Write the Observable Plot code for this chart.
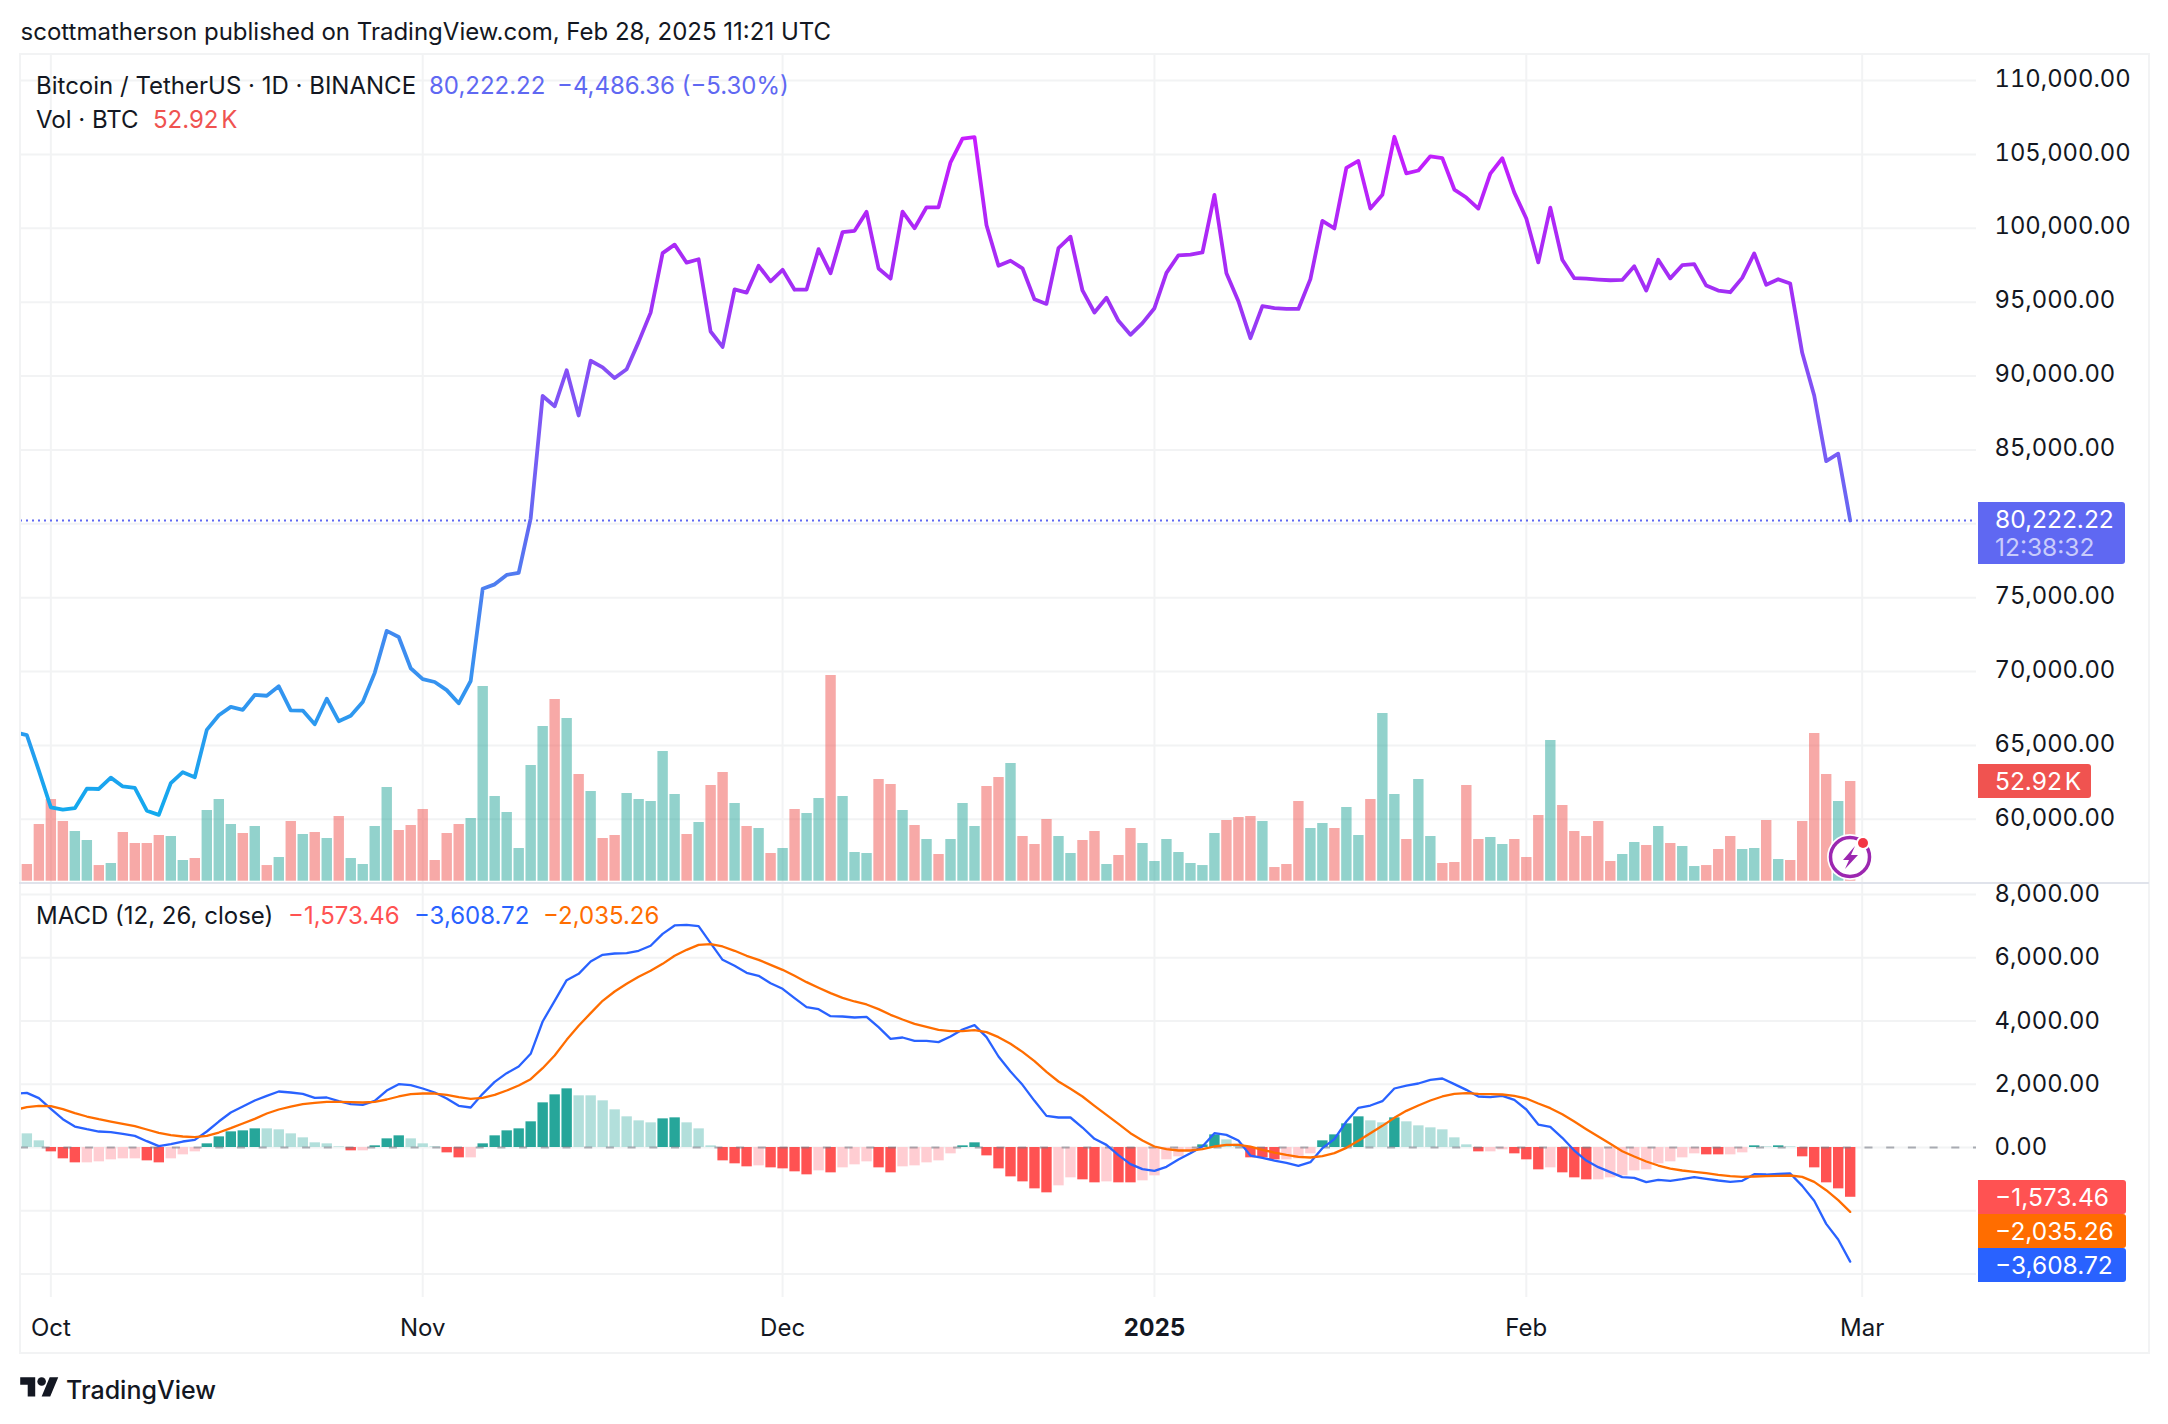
<!DOCTYPE html>
<html>
<head>
<meta charset="utf-8">
<script src="https://cdn.jsdelivr.net/npm/d3@7"></script>
<script src="https://cdn.jsdelivr.net/npm/@observablehq/plot@0.6"></script>
<style>
  html,body{margin:0;padding:0;background:#fff;}
  #root{position:relative;width:2168px;height:1424px;overflow:hidden;font-family:Inter,sans-serif;color:#131722;font-size:24px;line-height:1;}
  .txt{position:absolute;white-space:pre;transform:translateY(-50%);}
  .tag{position:absolute;left:1978px;color:#fff;box-sizing:border-box;padding-left:17px;border-radius:0 3px 3px 0;display:flex;flex-direction:column;justify-content:center;font-size:24.5px;}
  .frame{position:absolute;background:#f2f3f4;}
</style>
</head>
<body>
<div id="root"></div>
<script>
// ---- data (daily, Sep 28 2024 → Feb 28 2025) ----
const firstDay = "2024-09-28", lastDay = "2025-03-01";
const closes = [65887,65700,63300,60800,60650,60750,62070,62050,62820,62220,62130,60580,60300,62450,63190,62850,66050,67040,67610,67400,68420,68360,69000,67370,67360,66430,68160,66640,67010,67930,69910,72750,72340,70220,69480,69290,68740,67850,69360,75600,75900,76540,76680,80370,88650,87950,90390,87330,91030,90590,89860,90460,92310,94290,98320,98890,97670,97900,93010,91970,95860,95640,97460,96410,97190,95840,95850,98590,96950,99740,99830,101110,97280,96590,101130,100000,101420,101420,104460,106060,106170,100200,97460,97800,97290,95190,94880,98660,99430,95790,94300,95300,93740,92790,93580,94590,96980,98170,98220,98360,102260,96950,95060,92560,94730,94600,94550,94540,96560,100500,99990,104080,104560,101330,102260,106190,103710,103910,104870,104750,102620,102080,101330,103700,104740,102410,100660,97690,101400,97870,96620,96590,96530,96480,96500,97430,95780,97870,96610,97500,97570,96120,95780,95670,96640,98300,96180,96550,96260,91570,88680,84240,84740,80222.22];
const volumeK = [8.85,30.07,43.34,31.67,26.36,21.58,8.31,9.38,25.83,19.99,19.99,24.24,23.70,10.97,12.03,37.50,43.34,30.07,25.30,29.01,8.31,12.56,31.67,24.77,25.83,22.64,34.32,12.03,8.85,29.01,49.71,26.89,29.54,38.03,10.97,25.30,30.07,33.26,103.3,44.93,36.44,17.34,61.38,82.08,96.41,86.33,56.61,47.59,22.64,24.24,46.52,43.34,42.28,68.81,45.99,24.77,31.13,50.77,57.67,41.22,29.01,27.95,14.68,17.34,38.03,35.91,43.87,109.1,44.93,15.21,14.68,53.95,51.30,37.50,29.54,22.11,14.15,22.11,41.22,29.01,50.24,55.02,62.45,23.70,19.46,32.73,23.70,14.68,21.58,26.36,8.85,13.62,27.95,19.99,10.44,22.11,15.21,9.38,8.31,25.30,32.20,33.79,34.32,31.67,7.25,8.85,42.28,27.95,30.60,27.95,39.09,24.24,43.34,88.98,45.99,22.11,53.95,23.70,9.38,9.91,50.77,22.11,23.17,19.46,22.11,12.56,34.85,74.65,40.16,26.36,23.70,31.67,10.44,14.15,20.52,18.93,29.01,19.99,18.40,7.78,8.31,16.81,23.70,16.81,17.34,32.20,11.50,10.97,31.67,78.37,56.61,42.28,52.92];
const volumeColors = "rrrrggrgrr"+"rrggrgggrg"+"rgrgrgrggg"+"grrrrrrggg"+"ggggrgrgrr"+"gggggrgrrg"+"rgrgrggrgg"+"grrgrgrggg"+"rrgrrrggrr"+"grrggggggg"+"rrrgrrrggr"+"ggrggrggrr"+"rrggrrrgrr"+"rrrggrgrgg"+"rrrggrgrrr"+"rgr";
const macdLine = [1700,1729,1560,1223,896,664,580,506,485,432,369,200,42,105,190,242,506,822,1107,1296,1486,1634,1771,1739,1697,1570,1581,1465,1370,1349,1476,1802,2003,1971,1866,1739,1549,1318,1265,1697,2076,2350,2561,2962,3984,4638,5291,5491,5881,6092,6134,6145,6219,6377,6756,7020,7041,6999,6461,5934,5744,5523,5428,5196,5017,4722,4437,4374,4153,4142,4111,4132,3805,3436,3478,3373,3373,3331,3510,3731,3868,3489,2877,2403,1981,1476,1001,949,949,632,274,84,-242,-527,-685,-738,-611,-379,-179,32,453,400,221,-253,-327,-411,-485,-580,-464,-21,264,822,1254,1328,1465,1866,1960,2024,2140,2182,2003,1823,1613,1592,1634,1507,1202,727,653,306,-95,-411,-622,-780,-938,-959,-1096,-1022,-1054,-1001,-938,-991,-1043,-1086,-1054,-843,-854,-833,-822,-1212,-1686,-2414,-2909,-3608.72];
const signalLine = [1191,1275,1317,1307,1212,1086,980,896,822,748,675,569,464,390,348,327,369,474,611,759,906,1075,1202,1296,1370,1412,1444,1444,1433,1423,1444,1518,1613,1686,1707,1707,1665,1592,1539,1570,1665,1802,1960,2161,2508,2909,3404,3847,4248,4638,4933,5175,5396,5586,5807,6061,6250,6408,6429,6356,6219,6061,5934,5776,5618,5428,5228,5049,4880,4733,4617,4522,4374,4195,4047,3910,3815,3721,3678,3678,3710,3647,3489,3278,3025,2730,2393,2087,1855,1613,1317,1033,748,453,221,32,-53,-95,-95,-53,32,84,84,25,-74,-158,-232,-295,-316,-274,-179,-11,211,453,685,938,1159,1328,1486,1613,1697,1718,1697,1686,1676,1634,1549,1391,1244,1054,822,580,348,116,-116,-285,-443,-569,-664,-727,-769,-812,-864,-906,-928,-917,-906,-896,-885,-928,-1086,-1349,-1665,-2035.26];
const histogram = [432,211,-137,-358,-485,-485,-453,-390,-358,-358,-422,-485,-358,-232,-137,116,337,495,527,590,590,559,432,306,148,116,21,-105,-105,53,274,369,274,116,21,-169,-327,-327,116,369,527,590,812,1412,1665,1855,1634,1634,1476,1191,970,843,780,906,938,780,590,53,-422,-516,-611,-580,-643,-675,-769,-864,-738,-801,-643,-548,-453,-643,-801,-611,-580,-485,-422,-200,53,148,-264,-675,-928,-1086,-1307,-1433,-1212,-959,-1022,-1117,-1086,-1117,-1117,-1054,-896,-390,-295,-137,84,400,242,105,-327,-327,-390,-390,-358,-200,211,400,748,970,843,780,938,812,685,622,559,306,84,-137,-137,-74,-200,-390,-706,-643,-801,-959,-1022,-1022,-959,-896,-738,-706,-516,-453,-327,-200,-232,-232,-232,-169,53,21,53,21,-295,-643,-1117,-1307,-1573.46];
const histKinds = "ggRRRrrrrrRRrrrGGGGGggggggg"+"Rr"+"GGG"+"ggg"+"RR"+"r"+"GGGGGGGG"+"ggggggg"+"GG"+"ggg"+"RRR"+"r"+"RRRR"+"r"+"R"+"rrr"+"RR"+"rrrrr"+"GG"+"RRRRRR"+"rr"+"RR"+"r"+"RR"+"rrrrr"+"GG"+"gg"+"RRR"+"rrr"+"GGGG"+"gg"+"G"+"gggggg"+"R"+"rr"+"RRR"+"r"+"RRR"+"rrrrrrrrr"+"RR"+"rr"+"GgGg"+"RRRRR";
const priceTicks = [60000,65000,70000,75000,80000,85000,90000,95000,100000,105000,110000];
const priceLabelTicks = [60000,65000,70000,75000,85000,90000,95000,100000,105000,110000];
const macdTicks = [-4000,-2000,0,2000,4000,6000,8000];
const macdLabelTicks = [0,2000,4000,6000,8000];
const monthTicks = ["2024-10-01","2024-11-01","2024-12-01","2025-02-01","2025-03-01"];
const yearTicks = ["2025-01-01"];
const monthNames = {"2024-10-01":"Oct","2024-11-01":"Nov","2024-12-01":"Dec","2025-01-01":"2025","2025-02-01":"Feb","2025-03-01":"Mar"};
const gradientStops = [[106200,"#c81cff"],[100000,"#ad28f6"],[95000,"#a030f5"],[90000,"#8450f5"],[85000,"#7a5cf5"],[80000,"#6468f2"],[75000,"#4a82f0"],[70000,"#3a90f0"],[60000,"#12aaee"]];

// ---- shared geometry ----
const days = d3.utcDay.range(new Date(firstDay), new Date(lastDay));
const barDays = days.slice(1);
const xDomain = [new Date(Date.UTC(2024,8,28,11,17)), new Date(Date.UTC(2025,2,10,12,43))];
const allTicks = [...monthTicks, ...yearTicks].map(d => new Date(d));
const iso = d => d.toISOString().slice(0,10);
const GRID = "#f2f3f4";
const common = {
  width:2168, height:1424, marginLeft:20, marginRight:192,
  x:{type:"utc", domain:xDomain, axis:null},
  style:{background:"transparent", fontFamily:"Inter, sans-serif", fontSize:"24px", color:"#131722", position:"absolute", left:0, top:0}
};
const priceY = {domain:[55721,111760], range:[882,54], axis:null};
const priceMargins = {marginTop:54, marginBottom:542};
const volY = {domain:[0,109.1], range:[880.7,675], axis:null};
const macdY = {domain:[-4742,8347], range:[1297,883], axis:null};
const macdMargins = {marginTop:883, marginBottom:127};
const numFmt = d3.format(",.2f");

const closeRows = days.map((d,i)=>({d, v:closes[i]}));
const volumeRows = barDays.map((d,i)=>({d, v:volumeK[i], c:volumeColors[i]}));
const macdRows = days.map((d,i)=>({d, m:macdLine[i], s:signalLine[i]}));
const histRows = barDays.map((d,i)=>({d, v:histogram[i], k:histKinds[i]}));
const histColor = {G:"#26a69a", g:"#b2dfdb", R:"#ff5252", r:"#ffcdd2"};

const root = document.getElementById("root");

// Layer 1: price grid + right axis
const gridPlot = Plot.plot({...common, ...priceMargins, y:priceY, marks:[
  Plot.gridY(priceTicks,{stroke:GRID, strokeOpacity:1, strokeWidth:2}),
  Plot.gridX(allTicks,{stroke:GRID, strokeOpacity:1, strokeWidth:2}),
  Plot.axisY(priceLabelTicks,{anchor:"right", tickSize:0, tickPadding:18, dy:-1.4, tickFormat:numFmt, label:null, fill:"#131722", fontSize:23.8})
]});
// Layer 2: volume
const volPlot = Plot.plot({...common, ...priceMargins, y:volY, marks:[
  Plot.ruleX(volumeRows,{x:"d", y1:0, y2:"v", strokeWidth:10.4, stroke:d=>d.c==="g"?"#26a69a":"#ef5350", strokeOpacity:0.5})
]});
// Layer 3: price line
const defs = () => {
  const g = d3.create("svg:linearGradient").attr("id","priceGrad").attr("x1",0).attr("y1",0).attr("x2",0).attr("y2",1);
  const hi = gradientStops[0][0], lo = gradientStops[gradientStops.length-1][0];
  gradientStops.forEach(([p,c])=>g.append("stop").attr("offset",(hi-p)/(hi-lo)).attr("stop-color",c));
  const s = d3.create("svg:defs"); s.node().append(g.node()); return s.node();
};
const pricePlot = Plot.plot({...common, ...priceMargins, y:priceY, marks:[
  defs,
  Plot.ruleY([closes[closes.length-1]],{stroke:"#5f68f2", strokeWidth:2, strokeDasharray:"2 4"}),
  Plot.line(closeRows,{x:"d", y:"v", stroke:"url(#priceGrad)", strokeWidth:3.8, curve:"linear", clip:true, strokeLinejoin:"round"})
]});
// Layer 4: MACD pane
const macdPlot = Plot.plot({...common, ...macdMargins, y:macdY, marks:[
  Plot.gridY(macdTicks,{stroke:GRID, strokeOpacity:1, strokeWidth:2}),
  Plot.gridX(allTicks,{stroke:GRID, strokeOpacity:1, strokeWidth:2}),
  Plot.ruleX(histRows,{x:"d", y1:0, y2:"v", strokeWidth:10.4, stroke:d=>histColor[d.k]}),
  Plot.ruleY([0],{stroke:"#787b86", strokeOpacity:0.6, strokeWidth:2, strokeDasharray:"8 13.7"}),
  Plot.line(macdRows,{x:"d", y:"m", stroke:"#2962ff", strokeWidth:2.3, clip:true}),
  Plot.line(macdRows,{x:"d", y:"s", stroke:"#ff6d00", strokeWidth:2.3, clip:true}),
  Plot.axisY(macdLabelTicks,{anchor:"right", tickSize:0, tickPadding:18, tickFormat:numFmt, label:null, fill:"#131722", fontSize:23.8}),
  Plot.axisX(monthTicks.map(d=>new Date(d)),{anchor:"bottom", tickSize:0, tickPadding:21, tickFormat:d=>monthNames[iso(d)], label:null, fill:"#131722", fontSize:24}),
  Plot.axisX(yearTicks.map(d=>new Date(d)),{anchor:"bottom", tickSize:0, tickPadding:21, tickFormat:d=>monthNames[iso(d)], label:null, fill:"#131722", fontSize:24, fontWeight:700})
]});
[gridPlot, volPlot, pricePlot, macdPlot].forEach(p=>root.append(p));

// frame + separators
const frame = (l,t,w,h,c)=>{const e=document.createElement("div");e.className="frame";e.style.cssText=`left:${l}px;top:${t}px;width:${w}px;height:${h}px;`+(c?`background:${c};`:"");root.append(e);};
frame(19,52.5,2130,2); frame(19,1352,2130,2); frame(19,52.5,2,1301); frame(2147.5,52.5,2,1301);
frame(19,881.7,2130,2,"#e0e3eb");

// text helper
const text = (x,y,s,css="")=>{const e=document.createElement("div");e.className="txt";e.style.cssText=`left:${x}px;top:${y}px;`+css;e.textContent=s;root.append(e);return e;};
text(20.5,32,"scottmatherson published on TradingView.com, Feb 28, 2025 11:21 UTC","font-size:24px;");
text(36,85.5,"Bitcoin / TetherUS · 1D · BINANCE");
text(429,85.5,"80,222.22","color:#5f68f2;");
text(557,85.5,"−4,486.36 (−5.30%)","color:#5f68f2;");
text(36,120,"Vol · BTC");
text(153,120,"52.92 K","color:#ef5350;word-spacing:-4px;");
text(36,916,"MACD (12, 26, close)");
text(288,916,"−1,573.46","color:#ff5252;");
text(414,916,"−3,608.72","color:#2962ff;");
text(543,916,"−2,035.26","color:#ff6d00;");
text(66,1390,"TradingView","font-size:25px;font-weight:500;");

// value tags, placed from the plots' own scales
const tag = (top,h,w,bg,lines)=>{const e=document.createElement("div");e.className="tag";e.style.cssText=`top:${top}px;height:${h}px;width:${w}px;background:${bg};word-spacing:-4px;`;
  lines.forEach(([s,c])=>{const l=document.createElement("div");l.textContent=s;l.style.cssText=`color:${c};line-height:28px;`;e.append(l);});root.append(e);};
const py = pricePlot.scale("y"), vy = volPlot.scale("y"), my = macdPlot.scale("y"), xs = pricePlot.scale("x");
tag(py.apply(closes[closes.length-1])-18,62,146.5,"#5f68f2",[[numFmt(closes[closes.length-1]),"#fff"],["12:38:32","#c9ccfb"]]);
tag(vy.apply(52.92)-17,34,113,"#f05350",[["52.92 K","#fff"]]);
const redTop = my.apply(histogram[histogram.length-1])-17;
tag(redTop,34,148,"#ff5252",[[numFmt(histogram[histogram.length-1]),"#fff"]]);
tag(redTop+34,34,148,"#ff6d00",[[numFmt(signalLine[signalLine.length-1]),"#fff"]]);
tag(redTop+68,34,148,"#2962ff",[[numFmt(macdLine[macdLine.length-1]),"#fff"]]);

// logo and lightning badge
const logo = document.createElement("div");
logo.style.cssText="position:absolute;left:20px;top:1373px;";
logo.innerHTML=`<svg width="39" height="30" viewBox="0 0 36 28"><path d="M14 22H7V11H0V4h14v18zM28 22h-8l7.5-18h8L28 22z" fill="#131722"/><circle cx="20" cy="8" r="4" fill="#131722"/></svg>`;
root.append(logo);
const bx = xs.apply(days[days.length-1]), by = 857;
const badge = document.createElement("div");
badge.style.cssText=`position:absolute;left:${bx-26}px;top:${by-26}px;`;
badge.innerHTML=`<svg width="52" height="52" viewBox="-26 -26 52 52"><circle r="23" fill="#fff"/><circle r="19.5" fill="#fff" stroke="#9c27b0" stroke-width="3.5"/><path d="M5 -11 L-7 3 L-1 3 L-5 12 L8 -2 L1 -2 Z" fill="#9c27b0"/><circle cx="13" cy="-14" r="7" fill="#fff"/><circle cx="13" cy="-14" r="5" fill="#f23645"/></svg>`;
root.append(badge);
</script>
</body>
</html>
